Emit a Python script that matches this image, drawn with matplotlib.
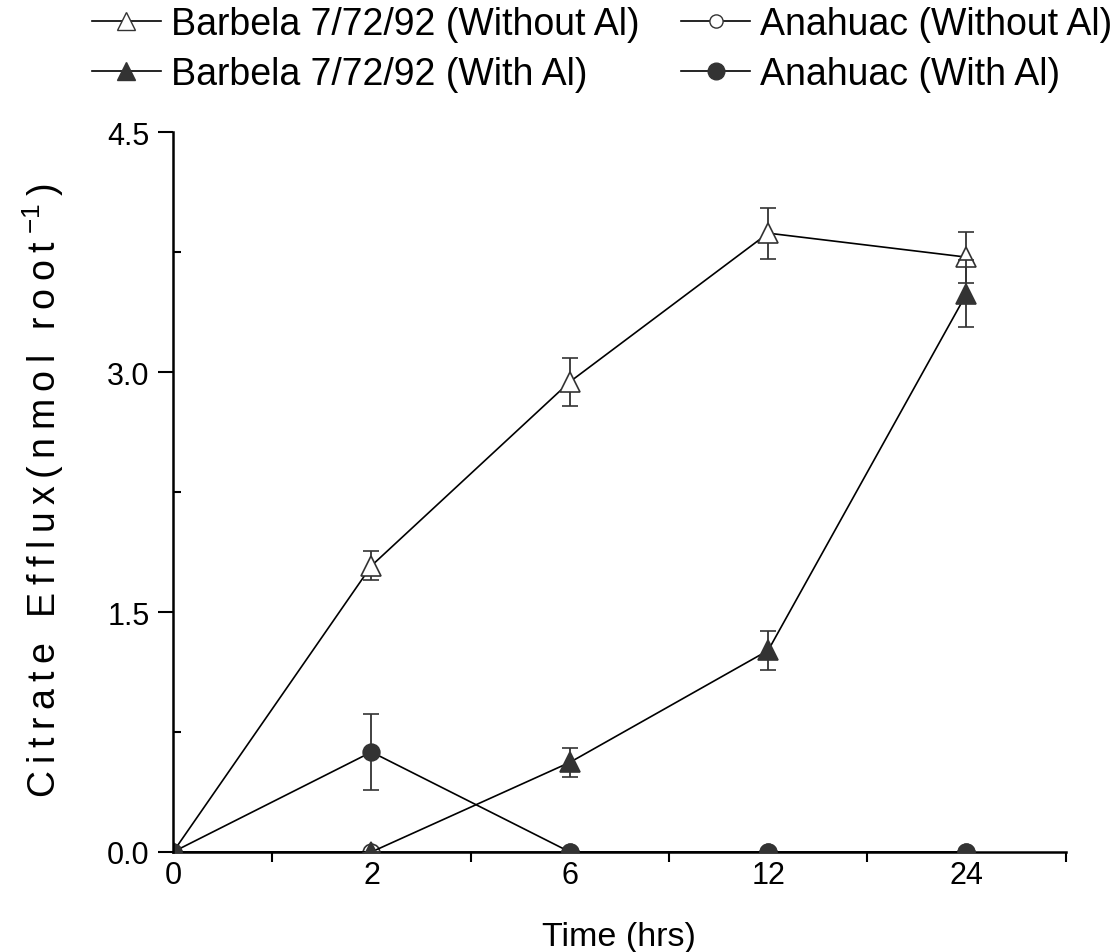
import matplotlib
matplotlib.use("Agg")
import matplotlib.pyplot as plt
from matplotlib.lines import Line2D
import numpy as np

plt.rcParams['font.family'] = ['Liberation Sans', 'DejaVu Sans']
plt.rcParams['mathtext.fontset'] = 'custom'
plt.rcParams['mathtext.rm'] = 'Liberation Sans'
plt.rcParams['mathtext.it'] = 'Liberation Sans'

# data
time_labels = ['0', '2', '6', '12', '24']
barbela_wo = [0.0, 1.79, 2.94, 3.87, 3.72]
barbela_wo_err = [0.0, 0.09, 0.15, 0.16, 0.16]
barbela_w = [0.0, 0.0, 0.56, 1.26, 3.49]
barbela_w_err = [0.0, 0.0, 0.09, 0.12, 0.21]
anahuac_wo = [0.0, 0.0, 0.0, 0.0, 0.0]
anahuac_w = [0.0, 0.625, 0.0, 0.0, 0.0]
anahuac_w_err = [0.0, 0.235, 0.0, 0.0, 0.0]

dark = '#333333'
x = np.arange(len(time_labels))

fig = plt.figure(figsize=(11.17, 9.53), dpi=100)
ax = fig.add_axes([0.155, 0.105, 0.799, 0.755])

ebkw = dict(ecolor=dark, elinewidth=1.3, capsize=6, capthick=1.3, color='black', lw=1.2)

ax.errorbar(x, anahuac_wo, marker='o', ms=12, mfc='white', mec=dark, mew=1.2, zorder=3, **ebkw)
ax.errorbar(x, barbela_wo, yerr=barbela_wo_err, marker='^', ms=15, mfc='white', mec=dark, mew=1.2,
            zorder=4, **ebkw)
ax.errorbar(x, barbela_w, yerr=barbela_w_err, marker='^', ms=15, mfc=dark, mec=dark, mew=1.2,
            zorder=5, **ebkw)
ax.errorbar(x, anahuac_w, yerr=anahuac_w_err, marker='o', ms=12, mfc=dark, mec=dark, mew=1.2,
            zorder=6, **ebkw)

ax.set_xlim(0, 4.5)
ax.set_ylim(0, 4.5)
ax.set_xticks(x)
ax.set_xticklabels(time_labels)
ax.set_xticks(np.arange(0.5, 5.0, 1.0), minor=True)
ax.set_yticks([0, 1.5, 3.0, 4.5])
ax.set_yticklabels(['0.0', '1.5', '3.0', '4.5'])
ax.set_yticks([0.75, 2.25, 3.75], minor=True)

ax.tick_params(axis='x', which='major', length=0, pad=6, labelsize=22)
ax.tick_params(axis='x', which='minor', direction='out', length=7, width=1.5)
ax.tick_params(axis='y', which='major', direction='out', length=11, width=1.5, pad=6, labelsize=22)
ax.tick_params(axis='y', which='minor', direction='in', length=6, width=1.5)

for s in ['top', 'right']:
    ax.spines[s].set_visible(False)
for s in ['left', 'bottom']:
    ax.spines[s].set_linewidth(1.8)
ax.spines['left'].set_zorder(10)
ax.spines['bottom'].set_zorder(2)

ax.set_xlabel('Time (hrs)', fontsize=24.5, labelpad=22)

# spaced-out y label like the original
thin = '\u2009'
words = ['Citrate', 'Efflux(nmol', 'root']
ylab = (thin + ' ' + thin).join(thin.join(w) for w in words) + thin + '$^{-1}$' + thin + ')'
ax.set_ylabel(ylab, fontsize=27)
ax.yaxis.set_label_coords(-0.12, 0.503)

handles = [
    Line2D([], [], color='black', lw=1.2, marker='^', ms=13, mfc='white', mec=dark),
    Line2D([], [], color='black', lw=1.2, marker='^', ms=13, mfc=dark, mec=dark),
    Line2D([], [], color='black', lw=1.2, marker='o', ms=9.5, mfc='white', mec=dark),
    Line2D([], [], color='black', lw=1.2, marker='o', ms=12, mfc=dark, mec=dark),
]
labels = ['Barbela 7/72/92 (Without Al)', 'Barbela 7/72/92 (With Al)',
          'Anahuac (Without Al)', 'Anahuac (With Al)']
fig.legend(handles, labels, loc='upper center', bbox_to_anchor=(0.539, 1.028), ncol=2, frameon=False,
           fontsize=27, handlelength=1.85, handletextpad=0.27, columnspacing=1.1,
           labelspacing=0.38)

fig.savefig('out.png', dpi=100)
